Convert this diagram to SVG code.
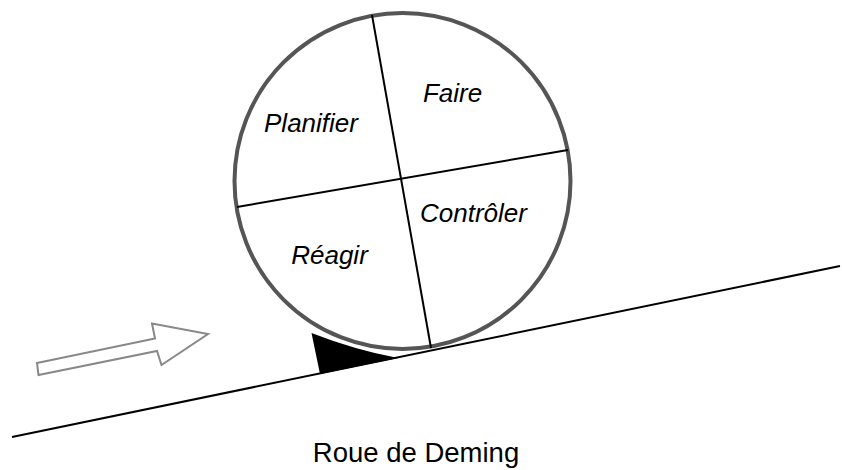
<svg xmlns="http://www.w3.org/2000/svg" width="842" height="470" viewBox="0 0 842 470">
<style>
.lbl{font-family:"Liberation Sans",Arial,Helvetica,sans-serif;font-style:italic;font-size:26px;fill:#000;text-anchor:middle}
.title{font-family:"Liberation Sans",Arial,Helvetica,sans-serif;font-size:27.5px;fill:#000;text-anchor:middle}
.thin{stroke:#000;stroke-width:2;fill:none}
</style>
<rect width="842" height="470" fill="#fff"/>
<g id="ground">
<line x1="12" y1="437" x2="840" y2="266" stroke="#000" stroke-width="2"/>
</g>
<g id="wedge">
<path d="M311.5,333 Q355,350 398,358 L320,374 Z" fill="#000"/>
</g>
<g id="arrow">
<path d="M37,363 L155,338.5 L152,323.5 L208,334 L161.5,365 L157,351 L38.5,375 Z" fill="#fff" stroke="#888" stroke-width="2" stroke-linejoin="miter"/>
</g>
<g id="wheel">
<circle cx="402.5" cy="181" r="168" fill="#fff" stroke="#555" stroke-width="4"/>
</g>
<g id="connectors">
<line class="thin" x1="372" y1="15" x2="431" y2="348"/>
<line class="thin" x1="237" y1="207" x2="568" y2="150"/>
</g>
<g id="planifier"><text class="lbl" x="311" y="132">Planifier</text></g>
<g id="faire"><text class="lbl" x="452.5" y="102">Faire</text></g>
<g id="controler"><text class="lbl" x="473.5" y="222">Contrôler</text></g>
<g id="reagir"><text class="lbl" x="329.5" y="264">Réagir</text></g>
<g id="caption"><text class="title" x="416" y="462">Roue de Deming</text></g>
</svg>
